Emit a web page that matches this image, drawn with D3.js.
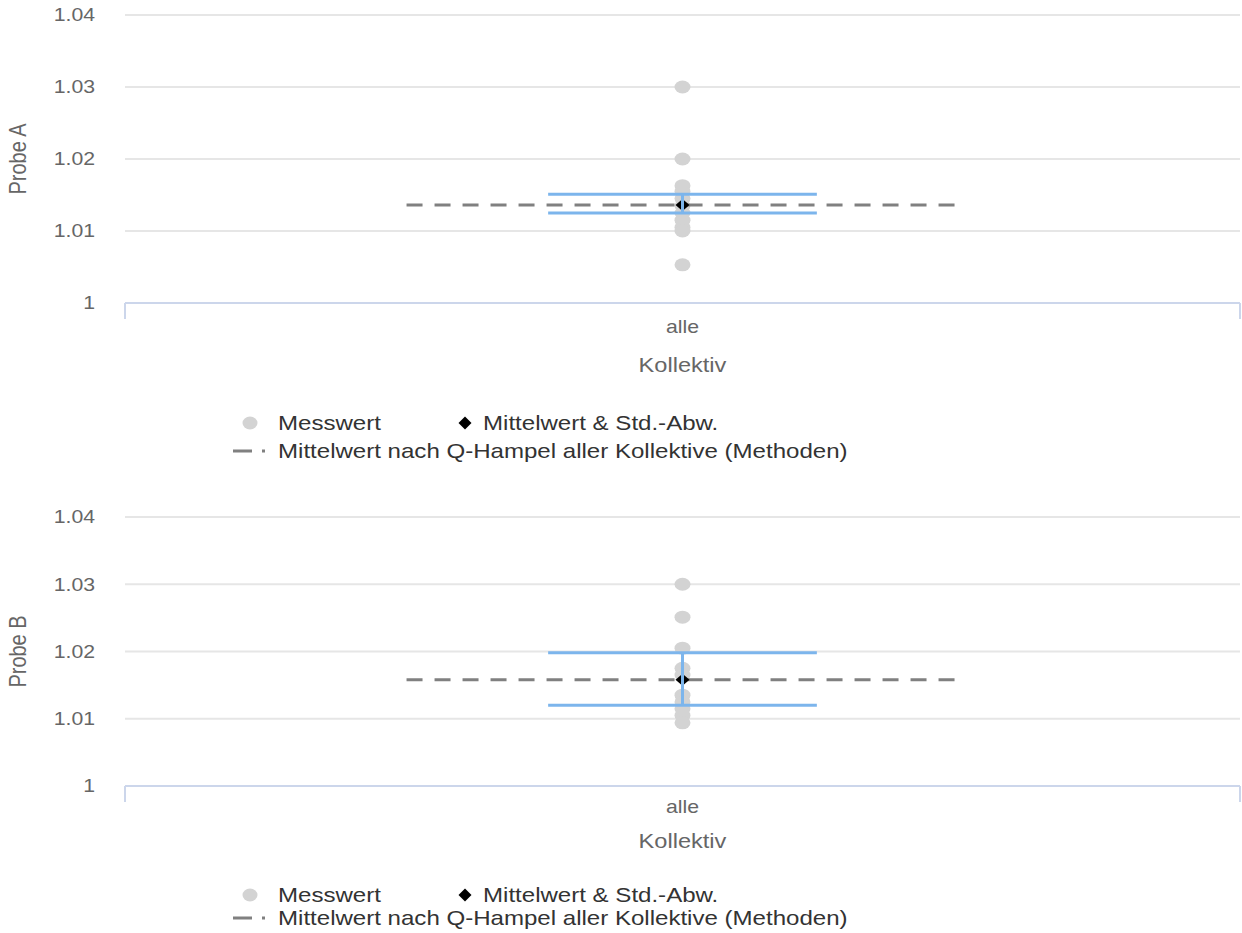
<!DOCTYPE html>
<html>
<head>
<meta charset="utf-8">
<script src="https://cdn.jsdelivr.net/npm/d3@7"></script>
<style>
  body { margin: 0; background: #fff; }
  svg { display: block; font-family: 'Liberation Sans', Arial, sans-serif; }
</style>
</head>
<body>
<svg id="chart" width="1242" height="933"></svg>
<script>
// data
const categories = ['alle']
const yTicks = [1, 1.01, 1.02, 1.03, 1.04]
const yDomain = [1, 1.04]

const probeAValues = [1.03, 1.02, 1.0163, 1.0155, 1.0145, 1.0135, 1.0125, 1.0115, 1.0105, 1.01, 1.0053]
const probeAMean = 1.0136
const probeAUpper = 1.0151
const probeALower = 1.0125
const probeAHampel = 1.0136

const probeBValues = [1.03, 1.0251, 1.0205, 1.0175, 1.0165, 1.0135, 1.0125, 1.0115, 1.0105, 1.0094]
const probeBMean = 1.0158
const probeBUpper = 1.0198
const probeBLower = 1.012
const probeBHampel = 1.0158

const xTitle = 'Kollektiv'
const legendLabels = ['Messwert', 'Mittelwert & Std.-Abw.', 'Mittelwert nach Q-Hampel aller Kollektive (Methoden)']

// the picture is stretched sideways, so texts and markers get this factor
const S = 1.18
const left = 125
const right = 1240

const svg = d3.select('#chart')

function stretchedText(g, x, y, str, size, color, anchor, rot) {
  return g
    .append('text')
    .attr('transform', `translate(${x},${y}) scale(${S},1)` + (rot ? ` rotate(${rot})` : ''))
    .attr('text-anchor', anchor)
    .attr('dy', '0.35em')
    .style('font-size', size + 'px')
    .style('fill', color)
    .text(str)
}

function diamond(w, h) {
  return `M0,${-h / 2}L${w / 2},0L0,${h / 2}L${-w / 2},0Z`
}

function drawPanel(cfg) {
  let g = svg.append('g')

  let x = d3.scaleBand().domain(categories).range([left, right])
  let y = d3.scaleLinear().domain(yDomain).range([cfg.bottom, cfg.top])

  //Grid lines
  g.selectAll('.grid')
    .data(yTicks.filter((d) => d > yDomain[0]))
    .enter()
    .append('line')
    .attr('x1', left)
    .attr('x2', right)
    .attr('y1', (d) => y(d))
    .attr('y2', (d) => y(d))
    .attr('stroke', '#e6e6e6')
    .attr('stroke-width', 2)

  // Tick labels
  yTicks.forEach((t) => {
    stretchedText(g, 95, y(t), d3.format('')(+t.toFixed(2)), 18, '#666666', 'end')
  })

  // y title
  stretchedText(g, 18, (cfg.top + cfg.bottom) / 2, cfg.title, 20, '#666666', 'middle', -90)

  // x axis
  g.append('line')
    .attr('x1', left)
    .attr('x2', right)
    .attr('y1', cfg.bottom)
    .attr('y2', cfg.bottom)
    .attr('stroke', '#ccd6eb')
    .attr('stroke-width', 2)
  ;[left, right].forEach((tx) => {
    g.append('line')
      .attr('x1', tx)
      .attr('x2', tx)
      .attr('y1', cfg.bottom)
      .attr('y2', cfg.bottom + 16)
      .attr('stroke', '#ccd6eb')
      .attr('stroke-width', 2)
  })
  categories.forEach((c) => {
    stretchedText(g, x(c) + x.bandwidth() / 2, cfg.alleY, c, 18, '#666666', 'middle')
  })
  stretchedText(g, (left + right) / 2, cfg.titleY, xTitle, 20, '#666666', 'middle')

  let cx = x(categories[0]) + x.bandwidth() / 2
  let bw = x.bandwidth()

  // Messwerte
  g.selectAll('.dot')
    .data(cfg.values)
    .enter()
    .append('ellipse')
    .attr('cx', cx)
    .attr('cy', (d) => y(d))
    .attr('rx', 8)
    .attr('ry', 6.5)
    .attr('fill', '#d3d3d3')

  // Q-Hampel line
  g.append('line')
    .attr('x1', cx - bw * 0.2475)
    .attr('x2', cx + bw * 0.2455)
    .attr('y1', y(cfg.hampel))
    .attr('y2', y(cfg.hampel))
    .attr('stroke', '#808080')
    .attr('stroke-width', 3)
    .attr('stroke-dasharray', '16,12')

  // mean
  g.append('path')
    .attr('d', diamond(14, 12))
    .attr('transform', `translate(${cx},${y(cfg.mean)})`)
    .attr('fill', '#000')

  // error bar
  let capHalf = bw * 0.1205
  ;[cfg.upper, cfg.lower].forEach((v) => {
    g.append('line')
      .attr('x1', cx - capHalf)
      .attr('x2', cx + capHalf)
      .attr('y1', y(v))
      .attr('y2', y(v))
      .attr('stroke', '#7cb5ec')
      .attr('stroke-width', 3)
  })
  g.append('line')
    .attr('x1', cx)
    .attr('x2', cx)
    .attr('y1', y(cfg.upper))
    .attr('y2', y(cfg.lower))
    .attr('stroke', '#7cb5ec')
    .attr('stroke-width', 3)

  // Legend
  g.append('ellipse')
    .attr('cx', 250)
    .attr('cy', cfg.leg1Y)
    .attr('rx', 7.5)
    .attr('ry', 6.5)
    .attr('fill', '#d3d3d3')
  stretchedText(g, 278, cfg.leg1Y, legendLabels[0], 20.4, '#333333', 'start')
  g.append('path')
    .attr('d', diamond(13, 13))
    .attr('transform', `translate(465,${cfg.leg1Y})`)
    .attr('fill', '#000')
  stretchedText(g, 483, cfg.leg1Y, legendLabels[1], 20.4, '#333333', 'start')
  g.append('line')
    .attr('x1', 233)
    .attr('x2', 266)
    .attr('y1', cfg.leg2Y)
    .attr('y2', cfg.leg2Y)
    .attr('stroke', '#808080')
    .attr('stroke-width', 3)
    .attr('stroke-dasharray', '19,10,3,100')
  stretchedText(g, 278, cfg.leg2Y, legendLabels[2], 20.4, '#333333', 'start')
}

drawPanel({
  title: 'Probe A',
  top: 15,
  bottom: 303,
  alleY: 327,
  titleY: 365,
  leg1Y: 423,
  leg2Y: 451,
  values: probeAValues,
  mean: probeAMean,
  upper: probeAUpper,
  lower: probeALower,
  hampel: probeAHampel
})

drawPanel({
  title: 'Probe B',
  top: 517,
  bottom: 786,
  alleY: 807,
  titleY: 841,
  leg1Y: 895,
  leg2Y: 918,
  values: probeBValues,
  mean: probeBMean,
  upper: probeBUpper,
  lower: probeBLower,
  hampel: probeBHampel
})
</script>
</body>
</html>
